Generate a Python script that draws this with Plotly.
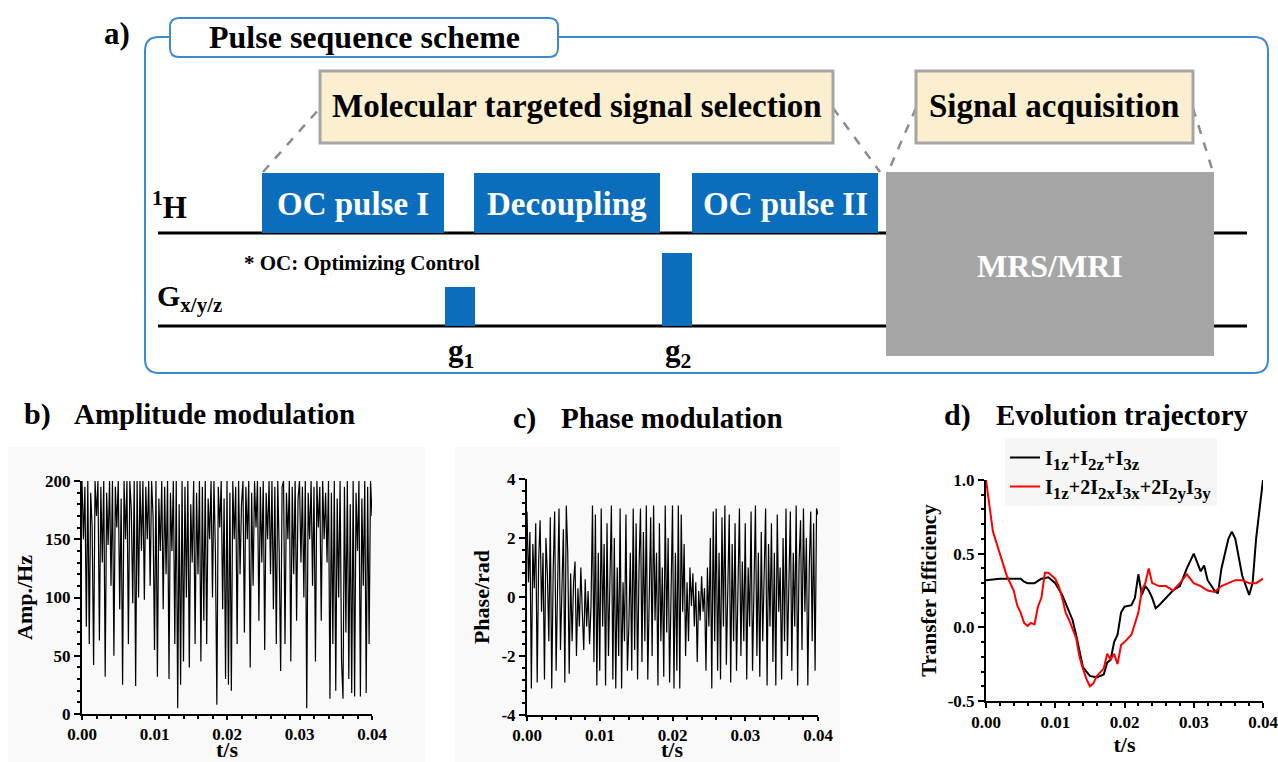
import numpy as np
import plotly.graph_objects as go

W, H = 1278, 762
FONT = "Liberation Serif"
BLUE = "#0A6EBD"
FRAME = "#3C8AD0"

# ---------------- data ----------------
amp_hz = [
    200, 150, 195, 75, 200, 60, 190, 160, 42, 200,
    170, 200, 63, 195, 130, 200, 32, 190, 145, 200,
    110, 200, 50, 195, 160, 200, 90, 185, 25, 200,
    150, 200, 60, 200, 175, 95, 200, 24, 200, 100,
    200, 140, 200, 98, 195, 150, 200, 110, 200, 170,
    55, 200, 32, 185, 140, 200, 90, 195, 120, 200,
    30, 190, 140, 200, 60, 200, 5, 180, 25, 200,
    45, 195, 100, 200, 40, 180, 130, 200, 60, 190,
    120, 200, 45, 195, 80, 200, 60, 185, 150, 200,
    100, 200, 140, 8, 195, 160, 200, 90, 185, 30,
    200, 25, 190, 20, 200, 150, 195, 60, 200, 120,
    180, 200, 70, 195, 150, 200, 40, 190, 110, 200,
    160, 200, 80, 195, 130, 200, 55, 190, 150, 200,
    120, 200, 90, 195, 60, 200, 140, 37, 195, 200,
    60, 190, 150, 200, 45, 195, 120, 200, 80, 185,
    200, 130, 195, 100, 200, 5, 190, 150, 200, 110,
    195, 45, 200, 160, 195, 80, 200, 150, 190, 130,
    200, 13, 190, 60, 200, 20, 185, 100, 200, 45,
    13, 195, 70, 200, 30, 180, 18, 200, 15, 190,
    140, 200, 15, 185, 110, 200, 18, 195, 60, 200,
    170,
]
phase_rad = [
    2.9, 0.5, 2.2, -3.1, 1.8, 0.3, 2.5, -2.9, 1.2, 2.6,
    -0.5, 1.5, -2.8, 2.0, 0.8, -1.5, 2.7, -3.1, 0.9, 2.9,
    -2.5, 1.0, 3.0, -1.8, 0.5, 2.3, -2.9, 3.1, 1.5, -2.6,
    0.8, -1.5, 0.5, 1.2, -2.0, 0.3, -1.0, 1.0, -0.5, -1.8,
    0.6, -1.0, 0.2, -1.6, -0.3, 3.1, -2.2, 2.8, -3.0, 1.5,
    -2.5, 3.0, -1.0, 1.8, -3.0, 2.5, -2.0, 0.5, 3.1, -2.8,
    2.0, -3.1, 1.0, -2.0, 3.0, -3.1, 0.5, -1.5, 2.8, -2.5,
    -1.0, 1.5, -2.5, 3.0, -1.8, 2.5, -2.8, 1.0, 3.0, -2.2,
    2.2, -1.5, 3.1, -2.8, 0.8, 2.7, -2.0, 3.1, -0.8, 1.5,
    -3.0, 2.5, -1.5, 1.0, -2.7, 3.1, -1.2, 2.0, -2.9, 0.5,
    3.1, -3.1, 1.5, -2.5, 3.1, -3.1, 2.8, -0.5, 1.8, -2.0,
    0.5, -1.5, 1.0, -0.3, 0.8, -1.0, 0.5, -2.2, 0.2, -0.8,
    0.7, -0.5, 0.3, -2.5, 1.0, -1.0, 2.0, -3.1, 2.9, -1.5,
    3.0, -2.5, 1.5, -2.8, 2.7, -1.0, 3.1, -2.3, 0.5, 2.8,
    -2.9, 1.8, -1.5, 2.5, -2.5, 0.8, 3.0, -2.0, 1.2, -1.5,
    2.5, -2.8, 1.0, -1.0, 2.9, -2.5, 0.5, 3.1, -2.0, 1.5,
    -2.7, 2.2, -1.5, 0.5, 3.0, -3.0, 1.8, -1.0, 2.5, -2.2,
    1.5, -3.0, 2.8, -0.5, 1.0, -2.8, 2.0, -1.5, 3.0, -2.0,
    0.8, 2.9, -2.5, 1.5, -1.0, 3.1, -3.0, 1.2, 2.6, -1.8,
    3.0, -0.5, 2.0, -3.0, 1.0, 2.9, -1.5, 2.5, -2.5, 3.0,
    2.8,
]
t_mod = np.linspace(0, 0.04, len(amp_hz))

t_black = [0.0, 0.002, 0.004, 0.005, 0.0055, 0.006, 0.007, 0.008, 0.009, 0.0095, 0.010,
           0.011, 0.012, 0.0125, 0.013, 0.0135, 0.014, 0.0145, 0.015, 0.016, 0.017,
           0.0175, 0.018, 0.0185, 0.019, 0.0195, 0.020, 0.021, 0.0215, 0.022, 0.0225,
           0.023, 0.0235, 0.024, 0.0245, 0.025, 0.026, 0.027, 0.028, 0.029, 0.030,
           0.031, 0.0315, 0.032, 0.033, 0.0335, 0.034, 0.035, 0.0355, 0.036, 0.037,
           0.0375, 0.038, 0.0385, 0.039, 0.0395, 0.040]
eff_black = [0.32, 0.33, 0.33, 0.33, 0.31, 0.30, 0.30, 0.33, 0.34, 0.32, 0.30,
             0.22, 0.10, 0.05, -0.05, -0.15, -0.27, -0.30, -0.33, -0.34, -0.32,
             -0.24, -0.22, -0.10, -0.05, 0.10, 0.14, 0.15, 0.20, 0.36, 0.22,
             0.28, 0.25, 0.20, 0.13, 0.15, 0.20, 0.25, 0.28, 0.40, 0.50,
             0.38, 0.42, 0.32, 0.25, 0.23, 0.40, 0.60, 0.65, 0.60, 0.35,
             0.28, 0.22, 0.30, 0.60, 0.80, 1.00]
t_red = [0.0, 0.001, 0.002, 0.003, 0.004, 0.0045, 0.005, 0.0055, 0.006, 0.0065, 0.007,
         0.0075, 0.008, 0.0085, 0.009, 0.0095, 0.010, 0.0105, 0.011, 0.0115, 0.012,
         0.013, 0.0135, 0.014, 0.0145, 0.015, 0.0155, 0.016, 0.017, 0.0175, 0.018,
         0.0185, 0.019, 0.0195, 0.020, 0.021, 0.022, 0.0225, 0.023, 0.0235, 0.024,
         0.025, 0.026, 0.027, 0.028, 0.029, 0.030, 0.031, 0.032, 0.033, 0.034,
         0.035, 0.036, 0.037, 0.038, 0.039, 0.040]
eff_red = [1.00, 0.65, 0.50, 0.35, 0.25, 0.15, 0.10, 0.03, 0.01, 0.03, 0.02,
           0.14, 0.20, 0.37, 0.37, 0.35, 0.33, 0.28, 0.20, 0.10, 0.05,
           -0.07, -0.20, -0.28, -0.35, -0.40, -0.38, -0.33, -0.28, -0.18, -0.22,
           -0.18, -0.25, -0.12, -0.10, -0.05, 0.10, 0.25, 0.30, 0.40, 0.30,
           0.28, 0.28, 0.25, 0.30, 0.36, 0.30, 0.28, 0.25, 0.24, 0.28,
           0.30, 0.32, 0.32, 0.30, 0.30, 0.33]

x_ticks = [0, 0.01, 0.02, 0.03, 0.04]
x_ticktext = ["0.00", "0.01", "0.02", "0.03", "0.04"]
amp_ticks = [0, 50, 100, 150, 200]
phase_ticks = [-4, -2, 0, 2, 4]
phase_ticktext = ["-4", "-2", "0", "2", "4"]
eff_ticks = [-0.5, 0.0, 0.5, 1.0]
eff_ticktext = ["-0.5", "0.0", "0.5", "1.0"]


def sub(s):
    return f"<sub><span style='font-size:17px'>{s}</span></sub>"


legend_black = f"I{sub('1z')}+I{sub('2z')}+I{sub('3z')}"
legend_red = f"I{sub('1z')}+2I{sub('2x')}I{sub('3x')}+2I{sub('2y')}I{sub('3y')}"


# ---------------- helpers ----------------
def px(x):
    return x / W


def py(y):
    return 1 - y / H


shapes = []
annotations = []


def rect(x0, y0, x1, y1, fill, line_color=None, lw=0, layer="above"):
    shapes.append(dict(type="rect", xref="paper", yref="paper",
                       x0=px(x0), x1=px(x1), y0=py(y1), y1=py(y0),
                       fillcolor=fill,
                       line=dict(color=line_color or fill, width=lw),
                       layer=layer))


def rounded(x0, y0, x1, y1, r, color, lw, fill="rgba(0,0,0,0)"):
    p = (f"M {px(x0+r)},{py(y0)} L {px(x1-r)},{py(y0)} Q {px(x1)},{py(y0)} {px(x1)},{py(y0+r)} "
         f"L {px(x1)},{py(y1-r)} Q {px(x1)},{py(y1)} {px(x1-r)},{py(y1)} "
         f"L {px(x0+r)},{py(y1)} Q {px(x0)},{py(y1)} {px(x0)},{py(y1-r)} "
         f"L {px(x0)},{py(y0+r)} Q {px(x0)},{py(y0)} {px(x0+r)},{py(y0)} Z")
    shapes.append(dict(type="path", xref="paper", yref="paper", path=p,
                       fillcolor=fill, line=dict(color=color, width=lw), layer="above"))


def line(x0, y0, x1, y1, color="black", lw=3, dash="solid"):
    shapes.append(dict(type="line", xref="paper", yref="paper",
                       x0=px(x0), y0=py(y0), x1=px(x1), y1=py(y1),
                       line=dict(color=color, width=lw, dash=dash), layer="above"))


def text(x, y, s, size, color="black", xanchor="center", yanchor="middle", angle=0):
    annotations.append(dict(x=px(x), y=py(y), xref="paper", yref="paper", text=s,
                            showarrow=False, xanchor=xanchor, yanchor=yanchor,
                            textangle=angle,
                            font=dict(family=FONT, size=size, color=color, weight="bold")))


# faint backgrounds of the pasted plots b and c
rect(8, 447, 425, 762, "#F9F9F9", layer="below")
rect(455, 447, 840, 762, "#F9F9F9", layer="below")

# ---------------- panel a: scheme ----------------
rounded(145, 37, 1268, 373, 14, FRAME, 2)
rounded(170, 18, 558, 57, 9, FRAME, 2, fill="white")
text(117, 33, "a)", 31)
text(364, 37, "Pulse sequence scheme", 32)

GRAY_D = "#8C8C8C"
line(263, 172, 320, 108, GRAY_D, 2.5, "dash")
line(833, 108, 880, 172, GRAY_D, 2.5, "dash")
line(916, 108, 888, 172, GRAY_D, 2.5, "dash")
line(1193, 108, 1213, 172, GRAY_D, 2.5, "dash")

rect(320, 71, 833, 143, "#FCEFCF", "#A6A6A6", 3)
text(577, 106, "Molecular targeted signal selection", 33)
rect(916, 71, 1193, 143, "#FCEFCF", "#A6A6A6", 3)
text(1054, 106, "Signal acquisition", 33)

line(158, 233, 1247, 233, "black", 3)
line(158, 326, 1247, 326, "black", 3)

rect(262, 173, 444, 233, BLUE)
text(353, 204, "OC pulse I", 33, "white")
rect(474, 173, 660, 233, BLUE)
text(567, 204, "Decoupling", 33, "white")
rect(692, 173, 878, 233, BLUE)
text(785, 204, "OC pulse II", 33, "white")

rect(445, 287, 475, 326, BLUE)
rect(662, 253, 692, 326, BLUE)
text(461, 353, "g<sub>1</sub>", 31)
text(678, 353, "g<sub>2</sub>", 31)

rect(886, 172, 1214, 356, "#A6A6A6")
text(1050, 266, "MRS/MRI", 32, "white")

text(150, 205, "<sup>1</sup>H", 31, xanchor="left")
text(155, 298, "G<sub>x/y/z</sub>", 30, xanchor="left")
text(242, 263, "* OC: Optimizing Control", 21, xanchor="left")

# panel titles
text(22, 414, "b)", 30, xanchor="left")
text(72, 414, "Amplitude modulation", 29, xanchor="left")
text(511, 418, "c)", 30, xanchor="left")
text(559, 418, "Phase modulation", 29, xanchor="left")
text(942, 415, "d)", 30, xanchor="left")
text(994, 415, "Evolution trajectory", 29, xanchor="left")

# x-axis titles of b and c (placed low, as in the reference)
text(227, 749, "t/s", 22)
text(672, 749, "t/s", 22)

# ---------------- plots ----------------
fig = go.Figure()
fig.add_trace(go.Scatter(x=t_mod, y=amp_hz, mode="lines", line=dict(color="black", width=1.2),
                         xaxis="x", yaxis="y", showlegend=False))
fig.add_trace(go.Scatter(x=t_mod, y=phase_rad, mode="lines", line=dict(color="black", width=1.2),
                         xaxis="x2", yaxis="y2", showlegend=False))
fig.add_trace(go.Scatter(x=t_black, y=eff_black, mode="lines", name=legend_black,
                         line=dict(color="black", width=2), xaxis="x3", yaxis="y3"))
fig.add_trace(go.Scatter(x=t_red, y=eff_red, mode="lines", name=legend_red,
                         line=dict(color="#FF0000", width=2), xaxis="x3", yaxis="y3"))

tickfont = dict(family=FONT, size=17, color="black", weight="bold")


def xax(domain, anchor, ticklen, title=None, tsize=22, standoff=2):
    ax = dict(domain=domain, anchor=anchor, range=[0, 0.04], tickvals=x_ticks,
              ticktext=x_ticktext, ticklabeloverflow="allow",
              showline=True, linecolor="black", linewidth=2, ticks="outside", ticklen=ticklen,
              tickwidth=2, tickcolor="black", showgrid=False, zeroline=False, tickfont=tickfont,
              minor=dict(ticks="outside", ticklen=3, tickwidth=1.5, tickcolor="black", dtick=0.002))
    if title:
        ax["title"] = dict(text=title, font=dict(family=FONT, size=tsize, color="black", weight="bold"),
                           standoff=standoff)
    return ax


def yax(domain, anchor, rng, tickvals, ticktext, mdtick, title, tsize, standoff):
    return dict(domain=domain, anchor=anchor, range=rng, tickvals=tickvals, ticktext=ticktext,
                ticklabeloverflow="allow",
                showline=True, linecolor="black", linewidth=2, ticks="outside", ticklen=6,
                tickwidth=2, tickcolor="black", showgrid=False, zeroline=False, tickfont=tickfont,
                minor=dict(ticks="outside", ticklen=3, tickwidth=1.5, tickcolor="black",
                           tick0=rng[0], dtick=mdtick),
                title=dict(text=title, font=dict(family=FONT, size=tsize, color="black", weight="bold"),
                           standoff=standoff))


fig.update_layout(
    width=W, height=H, margin=dict(l=0, r=0, t=0, b=0, autoexpand=False),
    paper_bgcolor="white", plot_bgcolor="rgba(0,0,0,0)",
    xaxis=xax([px(82), px(372)], "y", 4),
    yaxis=yax([py(714), py(481)], "x", [0, 200], amp_ticks, [str(v) for v in amp_ticks], 10,
              "Amp./Hz", 22, 6),
    xaxis2=xax([px(527), px(818)], "y2", 4),
    yaxis2=yax([py(715), py(479)], "x2", [-4, 4], phase_ticks, phase_ticktext, 0.4,
               "Phase/rad", 22, 6),
    xaxis3=xax([px(986), px(1263)], "y3", 5, "t/s", 22, 2),
    yaxis3=yax([py(701), py(480)], "x3", [-0.5, 1.0], eff_ticks, eff_ticktext, 0.1,
               "Transfer Efficiency", 21, 5),
    legend=dict(x=px(1005), y=py(438), xanchor="left", yanchor="top",
                bgcolor="#F6F6F6", font=dict(family=FONT, size=20, color="black", weight="bold"),
                tracegroupgap=0, itemwidth=30),
    shapes=shapes, annotations=annotations,
    font=dict(family=FONT),
)

fig.write_html("out.html", post_script="document.body.style.margin='0px';",
               config={"displayModeBar": False})
